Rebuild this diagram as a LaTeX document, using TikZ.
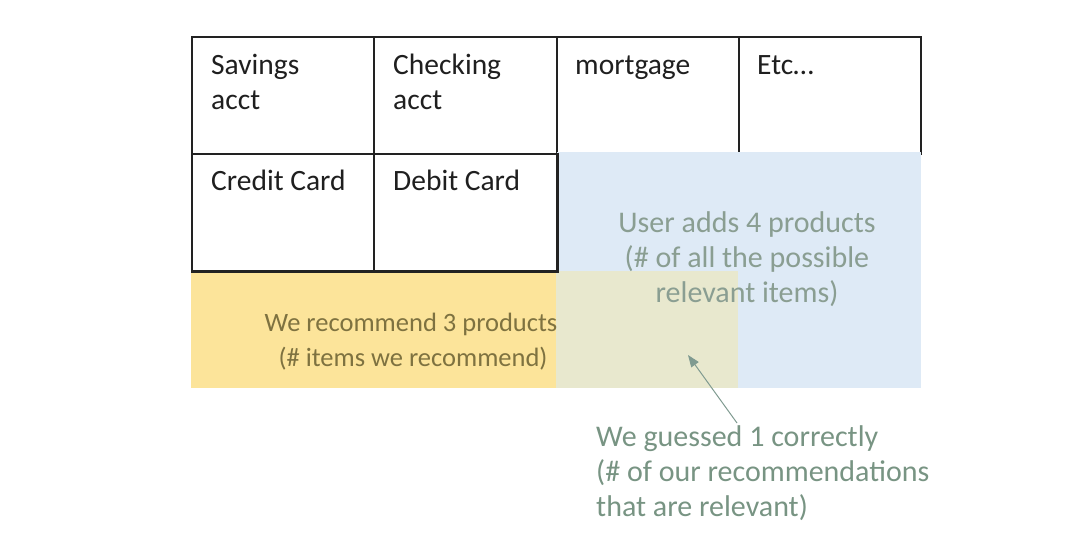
\documentclass[tikz,border=0pt]{standalone}
\usepackage{fontspec}
\setmainfont{Carlito}
\usetikzlibrary{arrows.meta}
\definecolor{yel}{HTML}{FCE49A}
\definecolor{blu}{HTML}{DEEAF6}
\definecolor{ovl}{HTML}{E8E8CE}
\definecolor{gridc}{HTML}{222222}
\definecolor{ytext}{HTML}{7E7240}
\definecolor{btext}{HTML}{8A9E92}
\definecolor{gtext}{HTML}{789483}
\definecolor{arr}{HTML}{7F9A90}
\tikzset{
  cell/.style={draw=gridc, line width=2.2pt, anchor=north west, inner sep=0pt},
  celltext/.style={anchor=base west, inner sep=0pt, font=\fontsize{29.5}{35}\selectfont, text=black!88},
  area/.style={anchor=north west, inner sep=0pt, draw=none},
  lbl/.style={inner sep=0pt, align=center, font=\fontsize{30}{35}\selectfont},
  ylbl/.style={inner sep=0pt, align=center, font=\fontsize{26.5}{35}\selectfont},
}
\begin{document}
\begin{tikzpicture}[x=1pt,y=-1pt]
\useasboundingbox (0,0) rectangle (1082,554);
% grid cells
\node[cell, minimum width=182pt, minimum height=117pt] (c11) at (191,36) {};
\node[cell, minimum width=183pt, minimum height=117pt] (c12) at (373,36) {};
\node[cell, minimum width=182pt, minimum height=117pt] (c13) at (556,36) {};
\node[cell, minimum width=182pt, minimum height=117pt] (c14) at (738,36) {};
\node[cell, minimum width=182pt, minimum height=117pt] (c21) at (191,153) {};
\node[cell, minimum width=183pt, minimum height=117pt] (c22) at (373,153) {};
% shaded areas
\node[area, fill=blu, minimum width=364pt, minimum height=236pt] (blue) at (557,152) {};
\node[area, fill=yel, minimum width=365pt, minimum height=117pt] (yellow) at (191,271) {};
\node[area, fill=ovl, minimum width=182pt, minimum height=117pt] (both) at (556,271) {};
% redraw lines touching areas
\draw[gridc, line width=2.2pt] (c22.north east) -- (c22.south east) -- (c21.south west);
% cell texts
\node[celltext] (t1) at (211,74) {Savings};
\node[celltext] (t1b) at (211,109) {acct};
\node[celltext] (t2) at (393,74) {Checking};
\node[celltext] (t2b) at (393,109) {acct};
\node[celltext] (t3) at (575,74) {mortgage};
\node[celltext] (t4) at (757,74) {Etc…};
\node[celltext] (t5) at (211,190) {Credit Card};
\node[celltext] (t6) at (393,190) {Debit Card};
% labels
\node[lbl, text=btext, anchor=base] (ub) at (747,232) {User adds 4 products};
\node[lbl, text=btext, anchor=base] (ub2) at (747,267) {(\# of all the possible};
\node[lbl, text=btext, anchor=base] (ub3) at (747,302) {relevant items)};
\node[ylbl, text=ytext, anchor=base] (wr) at (411,331) {We recommend 3 products};
\node[ylbl, text=ytext, anchor=base] (wr2) at (413,366) {(\# items we recommend)};
\node[lbl, text=gtext, anchor=base west] (g1) at (596,446) {We guessed 1 correctly};
\node[lbl, text=gtext, anchor=base west] (g2) at (596,481) {(\# of our recommendations};
\node[lbl, text=gtext, anchor=base west] (g3) at (596,516) {that are relevant)};
\coordinate (tip) at (688,355);
\coordinate (tail) at (737,423);
\draw[arr, line width=1pt, -{Triangle[length=12pt,width=9pt]}] (tail) -- (tip);
\end{tikzpicture}
\end{document}
